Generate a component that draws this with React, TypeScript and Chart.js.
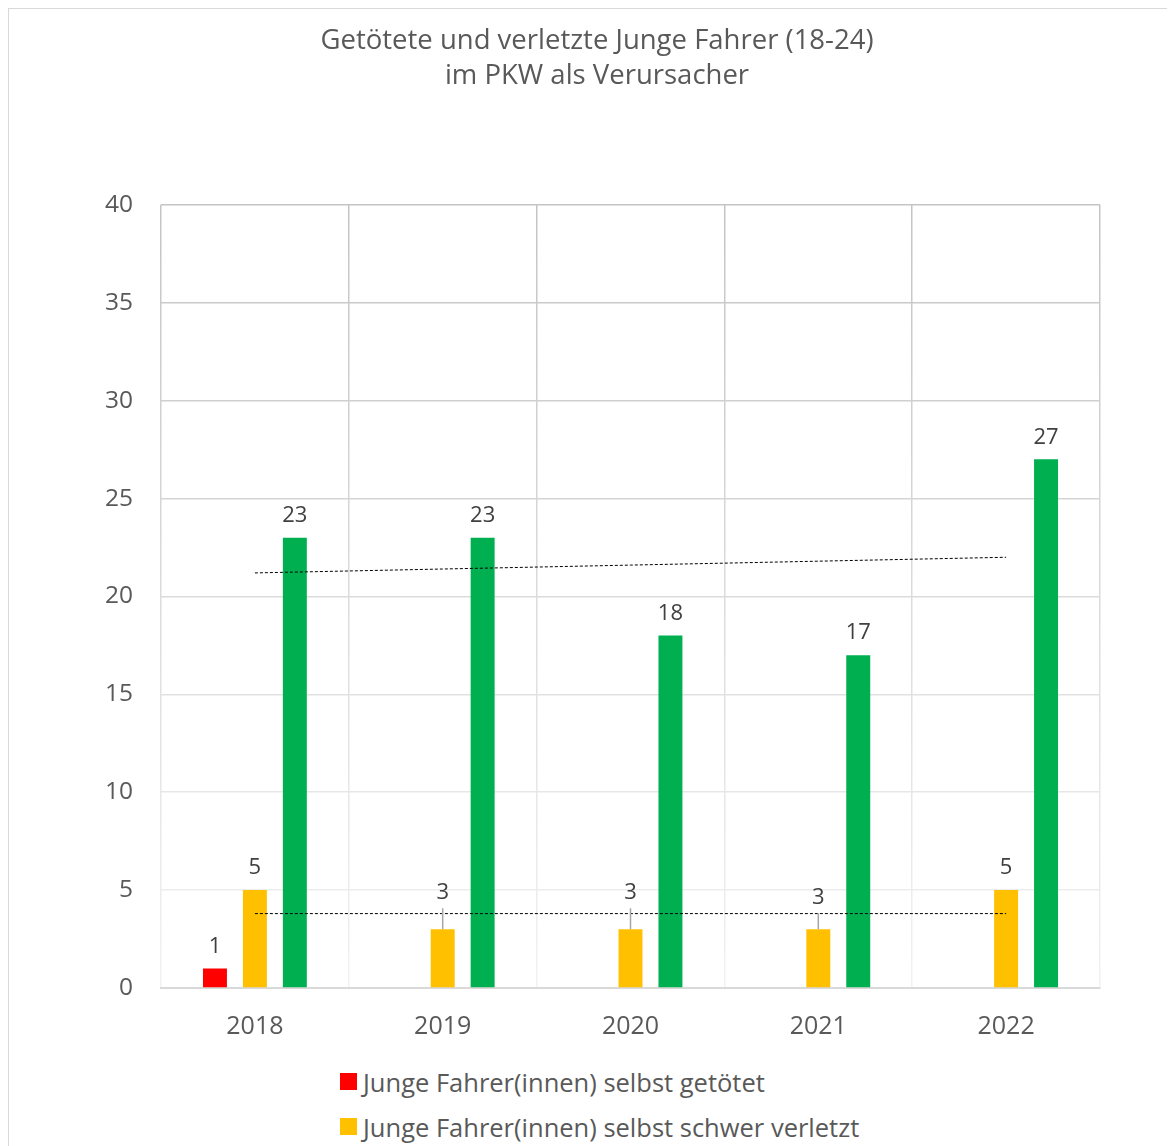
import React, { useEffect, useRef } from "react";
import { Chart, registerables } from "chart.js";

Chart.register(...registerables);

const years = ["2018", "2019", "2020", "2021", "2022"];
const getoetet = [1, 0, 0, 0, 0];
const schwerVerletzt = [5, 3, 3, 3, 5];
const leichtVerletzt = [23, 23, 18, 17, 27];
const yTicks = [0, 5, 10, 15, 20, 25, 30, 35, 40];

const titleLines = ["Getötete und verletzte Junge Fahrer (18-24)", "im PKW als Verursacher"];
const seriesNames = [
  "Junge Fahrer(innen) selbst getötet",
  "Junge Fahrer(innen) selbst schwer verletzt",
  "Junge Fahrer(innen) selbst leicht verletzt",
];
const seriesColors = ["#FF0000", "#FFC000", "#00B050"];

const FONT = "'Open Sans', sans-serif";

function linearTrend(values: number[]): number[] {
  const n = values.length;
  const mx = (n - 1) / 2;
  const my = values.reduce((a, b) => a + b, 0) / n;
  let num = 0;
  let den = 0;
  values.forEach((v, i) => {
    num += (i - mx) * (v - my);
    den += (i - mx) * (i - mx);
  });
  const slope = num / den;
  return values.map((_, i) => my + slope * (i - mx));
}

// extra lift (px) of individual data labels, with a leader line (style only)
const labelLift: Record<string, number[]> = {
  [seriesNames[1]]: [0, 15, 15, 10, 0],
};

const dataLabelPlugin = {
  id: "dataLabels",
  afterDatasetsDraw(chart: any) {
    const ctx = chart.ctx;
    ctx.save();
    ctx.font = `22px ${FONT}`;
    ctx.fillStyle = "#404040";
    ctx.textAlign = "center";
    ctx.textBaseline = "middle";
    chart.data.datasets.forEach((ds: any, di: number) => {
      if (ds.type === "line") return;
      const meta = chart.getDatasetMeta(di);
      meta.data.forEach((el: any, i: number) => {
        const v = ds.data[i];
        if (!v) return;
        const lift = (labelLift[ds.label] || [])[i] || 0;
        const ly = el.y - 22 - lift;
        if (lift > 0) {
          ctx.strokeStyle = "#a6a6a6";
          ctx.lineWidth = 1.5;
          ctx.beginPath();
          ctx.moveTo(el.x, ly + 16);
          ctx.lineTo(el.x, el.y);
          ctx.stroke();
        }
        ctx.fillText(String(v), el.x, ly);
      });
    });
    ctx.restore();
  },
};

function gridGradient(context: any) {
  const chart = context.chart;
  const area = chart.chartArea;
  if (!area) return "#d9d9d9";
  const g = chart.ctx.createLinearGradient(0, area.top, 0, area.bottom);
  g.addColorStop(0, "#c4c4c4");
  g.addColorStop(1, "#f2f2f2");
  return g;
}

export default function App() {
  const canvasRef = useRef<HTMLCanvasElement | null>(null);

  useEffect(() => {
    document.documentElement.style.overflow = "hidden";
    const canvas = canvasRef.current;
    if (!canvas) return;
    const chart = new Chart(canvas, {
      type: "bar",
      data: {
        labels: years,
        datasets: [
          { type: "line", label: "trend schwer", data: linearTrend(schwerVerletzt), borderColor: "#000000", borderWidth: 1, borderDash: [3, 2], pointRadius: 0, order: -1 } as any,
          { type: "line", label: "trend leicht", data: linearTrend(leichtVerletzt), borderColor: "#000000", borderWidth: 1, borderDash: [3, 2], pointRadius: 0, order: -1 } as any,
          { label: seriesNames[0], data: getoetet, backgroundColor: seriesColors[0], categoryPercentage: 0.638, barPercentage: 0.6 },
          { label: seriesNames[1], data: schwerVerletzt, backgroundColor: seriesColors[1], categoryPercentage: 0.638, barPercentage: 0.6 },
          { label: seriesNames[2], data: leichtVerletzt, backgroundColor: seriesColors[2], categoryPercentage: 0.638, barPercentage: 0.6 },
        ],
      },
      options: {
        animation: false,
        responsive: true,
        maintainAspectRatio: false,
        layout: { padding: 0 },
        plugins: {
          legend: { display: false },
          tooltip: { enabled: false },
          title: {
            display: true,
            text: titleLines,
            color: "#595959",
            font: { family: FONT, size: 27.5, weight: "normal", lineHeight: 1.27 },
            padding: { top: 15, bottom: 111 },
          },
        },
        scales: {
          x: {
            grid: { color: gridGradient, lineWidth: 1.5, drawTicks: false, offset: true },
            border: { color: "#d9d9d9", width: 2 },
            ticks: { color: "#595959", font: { family: FONT, size: 25 }, padding: 24 },
            afterFit: (s: any) => { s.height = 67; },
          },
          y: {
            min: 0,
            max: 40,
            afterBuildTicks: (s: any) => { s.ticks = yTicks.map((v) => ({ value: v })); },
            grid: { color: gridGradient, lineWidth: 1.5, drawTicks: false },
            border: { display: false },
            ticks: { color: "#595959", font: { family: FONT, size: 24.5 }, padding: 28 },
            afterFit: (s: any) => { s.width = 152; },
          },
          yRight: {
            position: "right",
            min: 0,
            max: 40,
            grid: { display: false, drawTicks: false },
            border: { display: false },
            ticks: { display: false },
            afterFit: (s: any) => { s.width = 85; },
          },
        },
      },
      plugins: [dataLabelPlugin],
    } as any);
    return () => chart.destroy();
  }, []);

  return (
    <div style={{ width: 1178, height: 1200, border: "1px solid #d9d9d9", boxSizing: "border-box", background: "#fff" }}>
      <div style={{ position: "relative", width: 1176, height: 1046 }}>
        <canvas ref={canvasRef} />
      </div>
      <div style={{ paddingLeft: 331, paddingTop: 4, fontFamily: FONT, fontSize: 25.5, color: "#595959" }}>
        {seriesNames.map((name, i) => (
          <div key={name} style={{ height: 45, display: "flex", alignItems: "center" }}>
            <span style={{ display: "inline-block", width: 17, height: 17, background: seriesColors[i], marginRight: 6 }} />
            <span>{name}</span>
          </div>
        ))}
      </div>
    </div>
  );
}
